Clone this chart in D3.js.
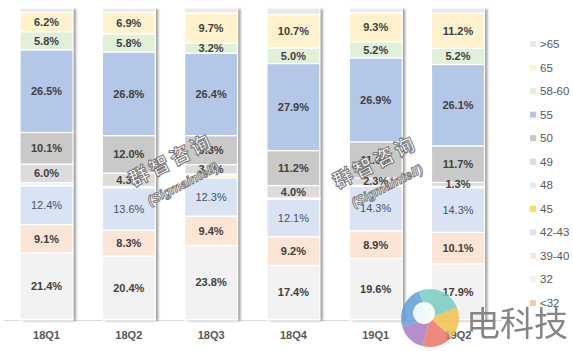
<!DOCTYPE html>
<html>
<head>
<meta charset="utf-8">
<script src="https://cdn.jsdelivr.net/npm/d3@7"></script>
<style>
  body { margin: 0; background: #fff; }
  svg { display: block; font-family: "Liberation Sans", Arial, sans-serif; }
</style>
</head>
<body>
<svg id="chart" width="573" height="351"></svg>
<script>
// quarters on the x axis
const quarters = ["18Q1", "18Q2", "18Q3", "18Q4", "19Q1", "19Q2"];
// series from bottom of the stack to the top
const sizes = ["<32", "32", "39-40", "42-43", "45", "48", "49", "50", "55", "58-60", "65", ">65"];

// share (%) per size, one value per quarter
const s_lt32  = [0.1, 0.1, 0.1, 0.1, 0.1, 0.1];
const s_32    = [21.4, 20.4, 23.8, 17.4, 19.6, 17.9];
const s_39_40 = [9.1, 8.3, 9.4, 9.2, 8.9, 10.1];
const s_42_43 = [12.4, 13.6, 12.3, 12.1, 14.3, 14.3];
const s_45    = [0.2, 0.1, 0.6, 0.1, 0.1, 0.1];
const s_48    = [0.8, 0.3, 0.6, 0.2, 0.2, 0.3];
const s_49    = [6.0, 4.3, 3.0, 4.0, 2.3, 1.3];
const s_50    = [10.1, 12.0, 9.3, 11.2, 11.6, 11.7];
const s_55    = [26.5, 26.8, 26.4, 27.9, 26.9, 26.1];
const s_58_60 = [5.8, 5.8, 3.2, 5.0, 5.2, 5.2];
const s_65    = [6.2, 6.9, 9.7, 10.7, 9.3, 11.2];
const s_gt65  = [1.4, 1.4, 1.6, 2.1, 1.5, 1.7];

// series that carry a data label
const labelled = ["32", "39-40", "42-43", "49", "50", "55", "58-60", "65"];

const seriesValues = [s_lt32, s_32, s_39_40, s_42_43, s_45, s_48, s_49, s_50, s_55, s_58_60, s_65, s_gt65];

const colors = {
  "<32": "#f8cbad", "32": "#f2f2f2", "39-40": "#fbe5d6", "42-43": "#dae3f3",
  "45": "#ffd966", "48": "#deebf7", "49": "#dcdcdc", "50": "#c9c9c9",
  "55": "#b4c7e7", "58-60": "#e2f0d9", "65": "#fff2cc", ">65": "#e9e9e9"
};

const table = quarters.map((q, i) => {
  const row = { quarter: q };
  sizes.forEach((s, j) => { row[s] = seriesValues[j][i]; });
  return row;
});

const svg = d3.select("#chart");

const defs = svg.append("defs");
const shadow = defs.append("filter").attr("id", "shadow")
  .attr("x", "-20%").attr("y", "-5%").attr("width", "150%").attr("height", "110%");
shadow.append("feDropShadow")
  .attr("dx", 3).attr("dy", 1).attr("stdDeviation", 1.3)
  .attr("flood-color", "#555").attr("flood-opacity", 0.55);

const x = d3.scaleBand().domain(quarters).range([5.2, 499.3])
  .paddingInner(0.356).paddingOuter(0.18);
const y = d3.scaleLinear().domain([0, 100]).range([320, 8]);

const stack = d3.stack().keys(sizes);
const layers = stack(table);

// axis line + quarter labels
const xAxis = d3.axisBottom(x).tickSize(0).tickPadding(11);
const axisG = svg.append("g").attr("transform", "translate(0,320)").call(xAxis);
axisG.select(".domain").attr("stroke", "#d9d9d9").attr("stroke-width", 1.2)
  .attr("d", "M4,0.5H502");
axisG.selectAll("text").attr("font-size", 11).attr("font-weight", "bold")
  .attr("fill", "#595959").attr("font-family", "Liberation Sans, Arial, sans-serif");

// bars
const barsG = svg.append("g");
quarters.forEach((q, i) => {
  barsG.append("rect")
    .attr("x", x(q)).attr("y", y(100))
    .attr("width", x.bandwidth()).attr("height", y(0) - y(100))
    .attr("fill", "#fff")
    .attr("filter", "url(#shadow)");
});

layers.forEach(layer => {
  barsG.append("g").selectAll("rect")
    .data(layer)
    .join("rect")
    .attr("x", d => x(d.data.quarter))
    .attr("y", d => y(d[1]))
    .attr("width", x.bandwidth())
    .attr("height", d => y(d[0]) - y(d[1]))
    .attr("fill", colors[layer.key])
    .attr("stroke", "#fff")
    .attr("stroke-width", 1.2);
});

// data labels
layers.filter(l => labelled.includes(l.key)).forEach(layer => {
  const plain = layer.key === "42-43";
  svg.append("g").selectAll("text")
    .data(layer)
    .join("text")
    .attr("x", d => x(d.data.quarter) + x.bandwidth() / 2)
    .attr("y", d => (y(d[0]) + y(d[1])) / 2)
    .attr("dy", "0.35em")
    .attr("text-anchor", "middle")
    .attr("font-size", 11)
    .attr("font-weight", plain ? "normal" : "bold")
    .attr("fill", plain ? "#44546a" : "#404040")
    .text(d => d.data[layer.key].toFixed(1) + "%");
});

// legend, top entry is the top of the stack
const legendKeys = sizes.slice().reverse();
const legendY = d3.scalePoint().domain(legendKeys).range([44, 303]);
const legendG = svg.append("g");
legendKeys.forEach(k => {
  legendG.append("rect")
    .attr("x", 530).attr("y", legendY(k) - 3)
    .attr("width", 6).attr("height", 6)
    .attr("fill", colors[k]);
  legendG.append("text")
    .attr("x", 540).attr("y", legendY(k))
    .attr("dy", "0.35em")
    .attr("font-size", 11.5)
    .attr("fill", "#595959")
    .text(k);
});

// watermarks
const marks = [[176, 170], [380, 172]];
marks.forEach(([mx, my]) => {
  const g = svg.append("g").attr("transform", `translate(${mx},${my}) rotate(-27)`);
  g.append("text").attr("text-anchor", "middle").attr("y", -4)
    .attr("font-size", 20).attr("font-weight", "bold")
    .attr("font-family", "Noto Sans CJK SC, sans-serif")
    .attr("fill", "#fff").attr("stroke", "#777").attr("stroke-width", 1)
    .attr("letter-spacing", 3)
    .text("群智咨询");
  g.append("text").attr("text-anchor", "middle").attr("y", 20)
    .attr("font-size", 13).attr("font-weight", "bold").attr("font-style", "italic")
    .attr("fill", "#fff").attr("stroke", "#777").attr("stroke-width", 0.9)
    .text("(Sigmaintell)");
});

// site logo bottom right
const logo = svg.append("g").attr("transform", "translate(430,318)");
const arc = d3.arc();
const logoParts = [
  { start: -0.4, end: 1.2, color: "#76cdc0" },
  { start: 1.2, end: 2.3, color: "#f0c14b" },
  { start: 2.3, end: 3.4, color: "#ea7467" },
  { start: 3.4, end: 4.4, color: "#a77bc3" },
  { start: 4.4, end: 5.88, color: "#5f9fd8" }
];
logoParts.forEach(p => {
  logo.append("path")
    .attr("d", arc({ innerRadius: 0, outerRadius: 29, startAngle: p.start, endAngle: p.end }))
    .attr("fill", p.color).attr("opacity", 0.85);
});
logo.append("circle").attr("cx", -6).attr("cy", -5).attr("r", 11).attr("fill", "#fff").attr("opacity", 0.9);
svg.append("text")
  .attr("x", 466).attr("y", 336)
  .attr("font-size", 34)
  .attr("font-family", "Noto Sans CJK SC, sans-serif")
  .attr("fill", "#7a7a7a")
  .attr("opacity", 0.9)
  .text("电科技");
</script>
</body>
</html>
